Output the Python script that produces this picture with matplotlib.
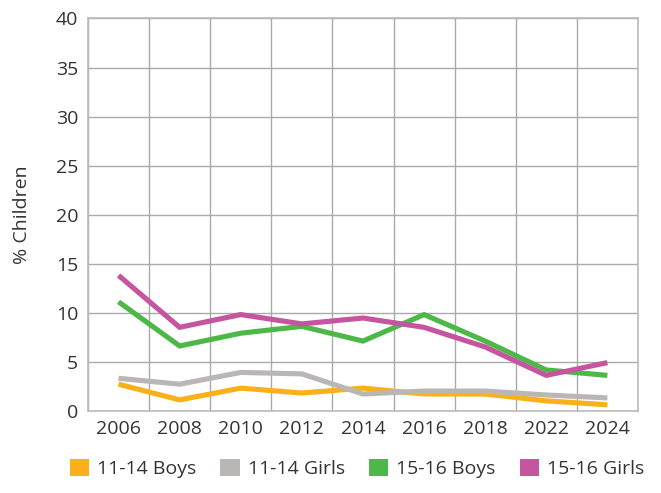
import matplotlib
matplotlib.use("Agg")
import numpy as np
import matplotlib.pyplot as plt
from matplotlib.patches import Patch

plt.rcParams['font.family'] = ['Open Sans', 'DejaVu Sans']

years = ['2006', '2008', '2010', '2012', '2014', '2016', '2018', '2022', '2024']
boys_11_14 = [2.7, 1.1, 2.3, 1.8, 2.3, 1.7, 1.7, 1.0, 0.6]
girls_11_14 = [3.3, 2.7, 3.9, 3.75, 1.7, 2.0, 2.0, 1.6, 1.3]
boys_15_16 = [11.1, 6.6, 7.9, 8.6, 7.1, 9.8, 7.1, 4.15, 3.6]
girls_15_16 = [13.8, 8.5, 9.8, 8.85, 9.45, 8.5, 6.5, 3.6, 4.9]

series = [
    ('11-14 Boys', boys_11_14, '#FBB01A'),
    ('11-14 Girls', girls_11_14, '#BAB6B5'),
    ('15-16 Boys', boys_15_16, '#4DB848'),
    ('15-16 Girls', girls_15_16, '#C5559E'),
]

fig = plt.figure(figsize=(6.61, 4.93), dpi=100)
ax = fig.add_axes([0.1331, 0.167, 0.832, 0.7955])

x = np.arange(len(years))
for name, vals, col in series:
    ax.plot(x, vals, color=col, linewidth=3.7, solid_capstyle='butt',
            solid_joinstyle='miter')

ax.set_xlim(-0.5, len(years) - 0.5)
ax.set_ylim(0, 40)
ax.set_yticks(range(0, 41, 5))
ax.set_xticks(x)
ax.set_xticklabels(years)
ax.set_xticks(np.arange(-0.5, len(years), 1), minor=True)

ax.grid(True, which='minor', axis='x', color='#aaaaaa', linewidth=1)
ax.grid(True, which='major', axis='y', color='#aaaaaa', linewidth=1)
ax.set_axisbelow(True)
ax.tick_params(which='both', length=0, labelsize=14, colors='#333333')
ax.tick_params(axis='x', pad=7)
ax.tick_params(axis='y', pad=7)
for s in ax.spines.values():
    s.set_color('#bbbbbb')
    s.set_linewidth(1.2)

ax.set_ylabel('% Children', fontsize=14, color='#333333', labelpad=18)

handles = [Patch(facecolor=col, label=name) for name, vals, col in series]
fig.legend(handles=handles, loc='lower center', ncol=4, frameon=False,
           fontsize=14, handlelength=1.0, handleheight=1.0,
           handletextpad=0.4, columnspacing=1.25, bbox_to_anchor=(0.54, -0.005),
           labelcolor='#333333')

fig.savefig('out.png', dpi=100)
